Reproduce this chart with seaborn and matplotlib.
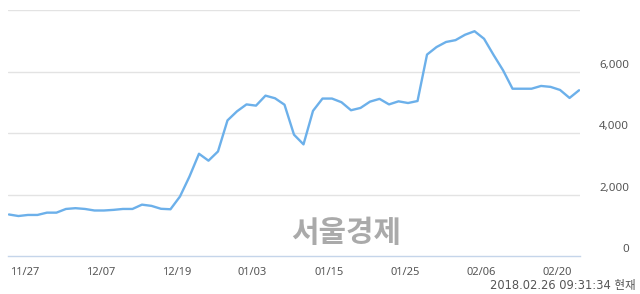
import matplotlib
matplotlib.use("Agg")
import matplotlib.pyplot as plt
import matplotlib.transforms as mtransforms
import seaborn as sns
import pandas as pd

prices = [1350, 1300, 1335, 1335, 1410, 1410, 1530, 1555, 1530, 1480,
          1480, 1500, 1530, 1530, 1670, 1630, 1535, 1520, 1935, 2585,
          3325, 3100, 3400, 4410, 4705, 4930, 4890, 5215, 5130, 4920,
          3945, 3630, 4720, 5120, 5120, 5000, 4740, 4815, 5020, 5110,
          4930, 5030, 4975, 5040, 6550, 6795, 6960, 7020, 7195, 7310,
          7065, 6540, 6040, 5440, 5440, 5440, 5530, 5500, 5400, 5140,
          5390]
tick_idx = [0, 8, 16, 24, 32, 40, 48, 56]
tick_labels = ["11/27", "12/07", "12/19", "01/03", "01/15", "01/25", "02/06", "02/20"]
y_ticks = [0, 2000, 4000, 6000]
y_labels = ["0", "2,000", "4,000", "6,000"]
grid_vals = [2000, 4000, 6000, 8000]
watermark = "서울경제"
stamp = "2018.02.26 09:31:34 현재"

df = pd.DataFrame({"idx": range(len(prices)), "price": prices})

sns.set_style("white")
plt.rcParams["font.family"] = ["Noto Sans", "Noto Sans CJK KR", "DejaVu Sans"]

fig = plt.figure(figsize=(6.4, 2.94), dpi=100)
W, H = 640, 294
ax = fig.add_axes([8 / W, (H - 256) / H, (580 - 8) / W, (256 - 10) / H])

for g in grid_vals:
    ax.axhline(g, color="#e3e3e3", lw=1.0, zorder=0)

sns.lineplot(data=df, x="idx", y="price", ax=ax, color="#6cb0ea", lw=1.7, zorder=3)

ax.set_xlim(-0.1, 60.1)
ax.set_ylim(0, 8000)
for s in ["top", "right", "left"]:
    ax.spines[s].set_visible(False)
ax.spines["bottom"].set_color("#c5d5ea")
ax.spines["bottom"].set_linewidth(1.0)
ax.set_xlabel("")
ax.set_ylabel("")
ax.set_yticks([])
ax.set_xticks(tick_idx)
ax.set_xticklabels(tick_labels, ha="left", color="#555555", fontsize=8)
ax.tick_params(axis="x", direction="out", length=7, width=1.0, color="#c5d5ea", pad=1)
for lbl in ax.get_xticklabels():
    lbl.set_transform(lbl.get_transform() + mtransforms.ScaledTranslation(1 / 100, 0, fig.dpi_scale_trans))

trans = mtransforms.blended_transform_factory(fig.transFigure, ax.transData)
off = mtransforms.ScaledTranslation(0, 6 / 100, fig.dpi_scale_trans)
for v, l in zip(y_ticks, y_labels):
    fig.text(629 / W, v, l, transform=trans + off, ha="right", va="center",
             color="#555555", fontsize=8.3)

fig.text(346 / W, 1 - 233 / H, watermark, ha="center", va="center", fontsize=21.5,
         fontweight="bold", color="#aaaaaa", family=["Noto Sans CJK KR", "DejaVu Sans"])
fig.text(636 / W, 1 - 285 / H, stamp, ha="right", va="center", fontsize=8.3,
         color="#555555", family=["DejaVu Sans", "Noto Sans CJK KR"])

fig.savefig("out.png", dpi=100)
